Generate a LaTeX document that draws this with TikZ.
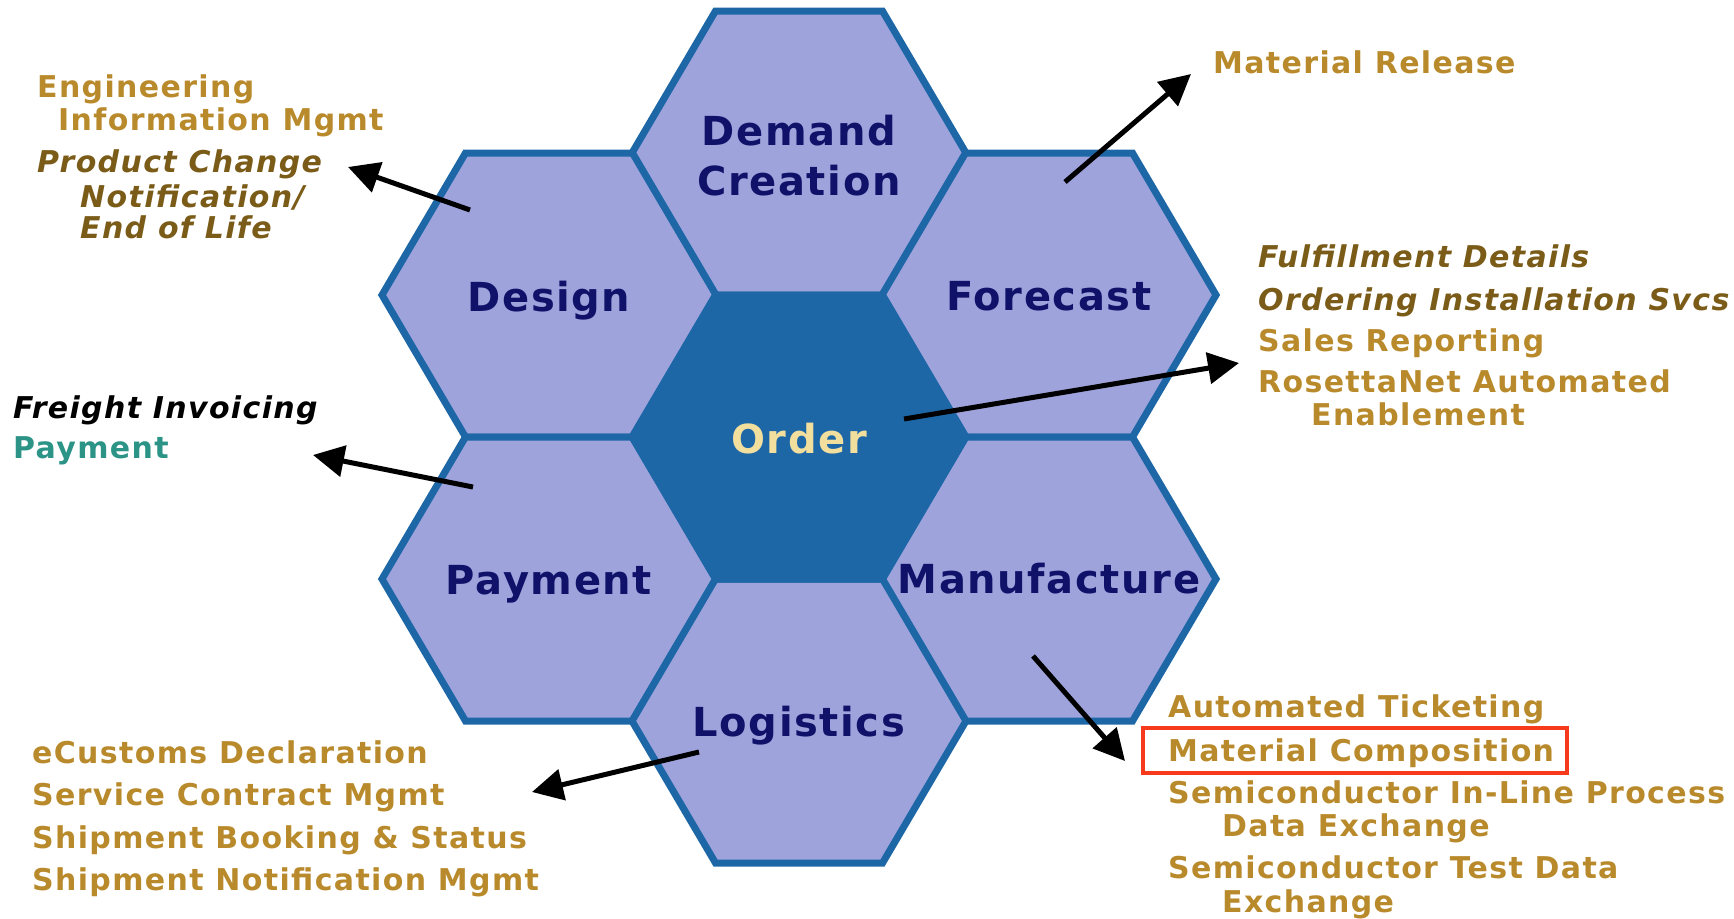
\documentclass[tikz,border=0pt]{standalone}
\usepackage{fontspec}
\setmainfont{DejaVu Sans}
\usetikzlibrary{arrows.meta}
\definecolor{hexfill}{HTML}{9EA3DC}
\definecolor{hexline}{HTML}{1E67A7}
\definecolor{hextext}{HTML}{10126A}
\definecolor{ordertext}{HTML}{F2DF9E}
\definecolor{goldc}{HTML}{B98A2B}
\definecolor{olivec}{HTML}{7A5B17}
\definecolor{tealc}{HTML}{2C9387}
\definecolor{redc}{HTML}{F83A1C}
\tikzset{
  hex/.pic={\path[pic actions] (-167,0) -- (-83.5,-142) -- (83.5,-142) -- (167,0) -- (83.5,142) -- (-83.5,142) -- cycle;},
  hexshape/.style={draw=hexline, fill=hexfill, line width=7pt},
  hexlabel/.style={text=hextext, inner sep=0pt, text depth=0pt, align=center, font=\fontsize{40}{50}\selectfont\bfseries\addfontfeatures{LetterSpace=4}},
  side/.style={anchor=base west, inner sep=0pt, font=\fontsize{30}{36}\selectfont\bfseries\addfontfeatures{LetterSpace=4.5}},
  gold/.style={side, text=goldc},
  olive/.style={side, text=olivec, font=\fontsize{30}{36}\selectfont\bfseries\itshape\addfontfeatures{LetterSpace=4.5}},
  conn/.style={line width=5pt, -{Triangle[length=31pt,width=31pt]}},
}
\begin{document}
\begin{tikzpicture}[x=1pt,y=-1pt]
\useasboundingbox (0,0) rectangle (1734,918);
% hexagons
\pic[hexshape] at (799,153) {hex};
\pic[hexshape] at (549,295) {hex};
\pic[hexshape] at (1049,295) {hex};
\pic[hexshape] at (549,579) {hex};
\pic[hexshape] at (1049,579) {hex};
\pic[hexshape] at (799,721) {hex};
\pic[hexshape, fill=hexline] at (799,437) {hex};
% hex labels
\node[hexlabel] (demand) at (799,155) {Demand\\Creation};
\node[hexlabel] (design) at (549,296) {Design};
\node[hexlabel] (forecast) at (1049,296) {Forecast};
\node[hexlabel, text=ordertext] (order) at (799,438) {Order};
\node[hexlabel] (payment) at (549,580) {Payment};
\node[hexlabel] (manufacture) at (1049,578) {Manufacture};
\node[hexlabel] (logistics) at (799,721) {Logistics};
% side texts
\node[gold] (eng) at (37,97) {Engineering};
\node[gold] (eim) at (58,130) {Information Mgmt};
\node[olive] (pc) at (37,172) {Product Change};
\node[olive] (notif) at (80,207) {Notification/};
\node[olive] (eol) at (80,238) {End of Life};
\node[side, text=black, font=\fontsize{30}{36}\selectfont\bfseries\itshape\addfontfeatures{LetterSpace=4.5}] (freight) at (13,418) {Freight Invoicing};
\node[side, text=tealc] (pay) at (13,458) {Payment};
\node[gold] (matrel) at (1213,73) {Material Release};
\node[olive] (fulfil) at (1258,267) {Fulfillment Details};
\node[olive] (ordinst) at (1258,310) {Ordering Installation Svcs};
\node[gold] (sales) at (1258,351) {Sales Reporting};
\node[gold] (rosetta) at (1258,392) {RosettaNet Automated};
\node[gold] (enable) at (1311,425) {Enablement};
\node[gold] (autotick) at (1168,717) {Automated Ticketing};
\node[gold] (matcomp) at (1168,761) {Material Composition};
\node[gold] (semi1) at (1168,803) {Semiconductor In-Line Process};
\node[gold] (semi1b) at (1222,836) {Data Exchange};
\node[gold] (semi2) at (1168,878) {Semiconductor Test Data};
\node[gold] (semi2b) at (1222,912) {Exchange};
\node[gold] (ecust) at (32,763) {eCustoms Declaration};
\node[gold] (servc) at (32,805) {Service Contract Mgmt};
\node[gold] (shipb) at (32,848) {Shipment Booking \& Status};
\node[gold] (shipn) at (32,890) {Shipment Notification Mgmt};
% red box
\coordinate (rb1) at (1143,728);
\coordinate (rb2) at (1567,773);
\draw[redc, line width=3.2pt] (rb1) rectangle (rb2);
% arrows
\coordinate (a1s) at (470,210); \coordinate (a1e) at (348,167);
\coordinate (a2s) at (1065,182); \coordinate (a2e) at (1191,74);
\coordinate (a3s) at (904,419); \coordinate (a3e) at (1239,363);
\coordinate (a4s) at (473,487); \coordinate (a4e) at (313,455);
\coordinate (a5s) at (699,752); \coordinate (a5e) at (532,792);
\coordinate (a6s) at (1033,656); \coordinate (a6e) at (1125,761);
\draw[conn] (a1s) -- (a1e);
\draw[conn] (a2s) -- (a2e);
\draw[conn] (a3s) -- (a3e);
\draw[conn] (a4s) -- (a4e);
\draw[conn] (a5s) -- (a5e);
\draw[conn] (a6s) -- (a6e);
\end{tikzpicture}
\end{document}
